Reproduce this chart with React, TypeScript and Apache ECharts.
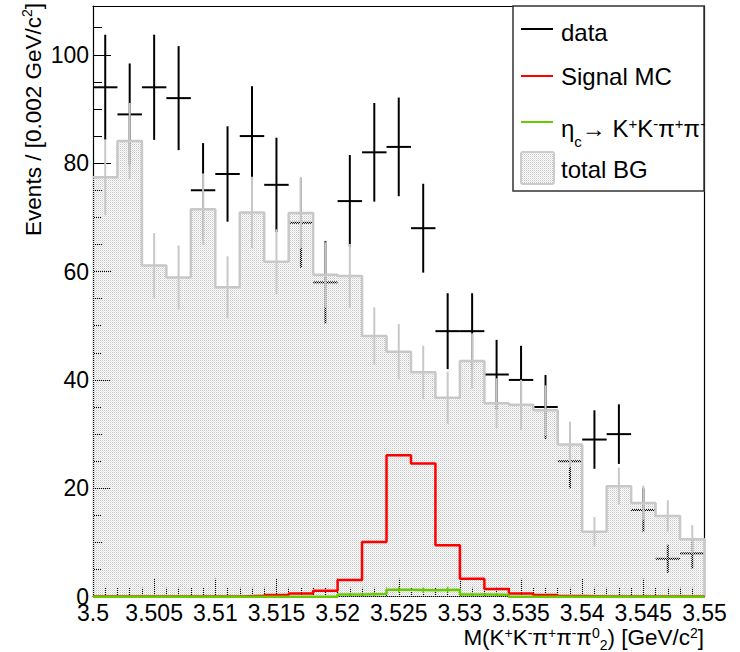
import React, { useEffect, useRef } from "react";
import * as echarts from "echarts";

const X_MIN = 3.5;
const X_MAX = 3.55;
const BIN_WIDTH = 0.002;
const Y_MAX = 109;

const dataCounts = [94, 89, 94, 92, 75, 78, 85, 76, 69, 58, 73, 82, 83, 68, 49, 49, 41, 40, 35, 25, 29, 30, 16, 7, 8];
const dataErrors = [9.7, 9.4, 9.7, 9.6, 8.7, 8.8, 9.2, 8.7, 8.3, 7.6, 8.5, 9.1, 9.1, 8.2, 7.0, 7.0, 6.4, 6.3, 5.9, 5.0, 5.4, 5.5, 4.0, 2.6, 2.8];
const totalBG = [77.4, 84.1, 61.1, 58.9, 71.5, 57.1, 70.9, 61.8, 70.8, 59.4, 59.2, 48.1, 45.2, 41.4, 36.7, 43.5, 35.7, 35.4, 34.4, 28.1, 12.0, 20.4, 17.3, 14.9, 10.6];
const totalBGErrors = [7.0, 7.0, 6.0, 5.9, 6.6, 5.7, 6.6, 6.0, 6.5, 6.0, 5.9, 5.3, 5.1, 4.9, 4.8, 5.1, 4.6, 4.6, 4.6, 4.2, 2.7, 3.4, 3.2, 2.9, 2.6];
const signalMC = [0.05, 0.05, 0.05, 0.05, 0.05, 0.05, 0.15, 0.3, 0.6, 1.1, 3.1, 10.1, 26.1, 24.6, 9.5, 3.3, 1.4, 0.6, 0.3, 0.15, 0.05, 0.05, 0.05, 0.05, 0.05];
const etacBG = [0, 0, 0, 0, 0, 0, 0, 0, 0, 0, 0.4, 0.5, 1.3, 1.2, 1.3, 0.4, 0.35, 0, 0, 0, 0, 0, 0, 0, 0];
const etacErrors = [0, 0, 0, 0, 0, 0, 0, 0, 0, 0, 0.3, 0.35, 0.55, 0.5, 0.55, 0.3, 0.3, 0, 0, 0, 0, 0, 0, 0, 0];

const legendLabels = ["data", "Signal MC", "η_c → K⁺K⁻π⁺π⁻", "total BG"];

const FONT = '"Liberation Sans", Arial, Helvetica, sans-serif';

function makePattern(): any {
  const c = document.createElement("canvas");
  c.width = 2;
  c.height = 2;
  const ctx = c.getContext("2d")!;
  ctx.fillStyle = "#c6c6c6";
  ctx.fillRect(0, 0, 1, 1);
  ctx.fillStyle = "#e2e2e2";
  ctx.fillRect(1, 1, 1, 1);
  return { image: c, repeat: "repeat" };
}

const binLow = (i: number) => X_MIN + i * BIN_WIDTH;
const binCenter = (i: number) => X_MIN + (i + 0.5) * BIN_WIDTH;

function stepData(vals: number[], closeRight = false) {
  const d: number[][] = vals.map((v, i) => [binLow(i), v]);
  d.push([X_MAX, vals[vals.length - 1]]);
  if (closeRight) d.push([X_MAX, 0]);
  return d;
}

function errorSeries(name: string, values: number[], errors: number[], color: string, width: number, withHoriz: boolean, z: number) {
  return {
    type: "custom",
    name,
    z,
    silent: true,
    encode: { x: 0, y: 1 },
    data: values.map((v, i) => [binCenter(i), v, errors[i]]),
    renderItem: (params: any, api: any) => {
      const xc = api.value(0) as number;
      const v = api.value(1) as number;
      const e = api.value(2) as number;
      const st = { stroke: color, lineWidth: width };
      const children: any[] = [];
      if (withHoriz) {
        const l = api.coord([xc - BIN_WIDTH / 2, v]);
        const r = api.coord([xc + BIN_WIDTH / 2, v]);
        children.push({ type: "line", shape: { x1: l[0], y1: l[1], x2: r[0], y2: r[1] }, style: st });
      }
      if (e > 0) {
        const t = api.coord([xc, v + e]);
        const b = api.coord([xc, Math.max(v - e, 0)]);
        children.push({ type: "line", shape: { x1: t[0], y1: t[1], x2: b[0], y2: b[1] }, style: st });
      }
      return { type: "group", children };
    },
  };
}

function makeRich(size: number, lineH: number, supSize: number, supH: number, subH: number) {
  return {
    m: { fontSize: size, lineHeight: lineH, fontFamily: FONT, color: "#000" },
    sup: { fontSize: supSize, height: supH, lineHeight: supH, verticalAlign: "top", fontFamily: FONT, color: "#000" },
    sub: { fontSize: supSize, height: subH, lineHeight: subH, verticalAlign: "bottom", fontFamily: FONT, color: "#000" },
  };
}

export default function App() {
  const ref = useRef<HTMLDivElement>(null);

  useEffect(() => {
    const chart = echarts.init(ref.current!, null, { renderer: "svg" });
    const pattern = makePattern();

    const yTitleRich = makeRich(22.5, 24, 14, 12, 1);
    const xTitleRich = makeRich(22.5, 16, 14, 7, 1);
    const legRich = makeRich(24, 28, 15, 19, 1);

    const legendText = (txt: string, y: number) => ({
      type: "text",
      x: 561,
      y,
      z: 101,
      style: { text: txt, fontSize: 24, fontFamily: FONT, fill: "#000", verticalAlign: "middle", align: "left" },
    });
    const legendLine = (y: number, color: string) => ({
      type: "line",
      z: 101,
      shape: { x1: 521, y1: y, x2: 553, y2: y },
      style: { stroke: color, lineWidth: 2 },
    });

    const axisLineStyle = { color: "#000", width: 1.2 };
    const frameAxisCommon = {
      type: "value",
      axisTick: { show: false },
      axisLabel: { show: false },
      splitLine: { show: false },
    };

    chart.setOption({
      animation: false,
      backgroundColor: "#fff",
      grid: { left: 93, right: 35.5, top: 6, bottom: 55.3, containLabel: false, outerBoundsMode: "none" },
      xAxis: [
        {
          type: "value",
          min: X_MIN,
          max: X_MAX,
          interval: 0.005,
          position: "bottom",
          axisLine: { show: true, onZero: false, lineStyle: axisLineStyle },
          axisTick: { show: true, inside: true, length: 18, lineStyle: { color: "#000", width: 1 } },
          minorTick: { show: true, splitNumber: 5, length: 9, lineStyle: { color: "#000", width: 1 } },
          splitLine: { show: false },
          minorSplitLine: { show: false },
          axisLabel: { fontSize: 23, color: "#000", fontFamily: FONT, margin: 5 },
        },
        { ...frameAxisCommon, min: X_MIN, max: X_MAX, position: "top", axisLine: { show: true, onZero: false, lineStyle: axisLineStyle } },
      ],
      yAxis: [
        {
          type: "value",
          min: 0,
          max: Y_MAX,
          interval: 20,
          position: "left",
          axisLine: { show: true, onZero: false, lineStyle: axisLineStyle },
          axisTick: { show: true, inside: true, length: 18, lineStyle: { color: "#000", width: 1 } },
          splitLine: { show: false },
          axisLabel: {
            fontSize: 23,
            color: "#000",
            fontFamily: FONT,
            margin: 4,
            formatter: (v: number) => (Math.abs(v % 20) < 1e-9 ? String(v) : ""),
          },
        },
        {
          type: "value",
          min: 0,
          max: Y_MAX,
          interval: 5,
          position: "left",
          axisLine: { show: false },
          axisTick: { show: true, inside: true, length: 9, lineStyle: { color: "#000", width: 1 } },
          axisLabel: { show: false },
          splitLine: { show: false },
        },
        { ...frameAxisCommon, min: 0, max: Y_MAX, position: "right", axisLine: { show: true, onZero: false, lineStyle: axisLineStyle } },
      ],
      series: [
        errorSeries("data", dataCounts, dataErrors, "#000", 2, true, 1),
        {
          type: "line",
          name: "total BG",
          step: "end",
          symbol: "none",
          silent: true,
          z: 2,
          data: stepData(totalBG, true),
          lineStyle: { color: "#c8c8c8", width: 2.5 },
          areaStyle: { color: pattern, opacity: 1 },
        },
        errorSeries("total BG errors", totalBG, totalBGErrors, "#c8c8c8", 2, false, 3),
        {
          type: "line",
          name: "Signal MC",
          step: "end",
          symbol: "none",
          silent: true,
          z: 4,
          data: stepData(signalMC),
          lineStyle: { color: "#ff0000", width: 2.5 },
        },
        {
          type: "line",
          name: "eta_c",
          step: "end",
          symbol: "none",
          silent: true,
          z: 5,
          data: stepData(etacBG),
          lineStyle: { color: "#66cc00", width: 2.5 },
        },
        errorSeries("eta_c errors", etacBG, etacErrors, "#66cc00", 1.5, false, 5),
      ],
      graphic: [
        {
          type: "text",
          x: 33,
          y: 3,
          rotation: Math.PI / 2,
          z: 50,
          style: {
            text: "{m|Events / [0.002 GeV/c}{sup|2}{m|]}",
            rich: yTitleRich,
            align: "right",
            verticalAlign: "middle",
            fontSize: 22.5,
            fontFamily: FONT,
          },
        },
        {
          type: "text",
          x: 704,
          y: 637,
          z: 50,
          style: {
            text: "{m|M(K}{sup|+}{m|K}{sup|-}{m|π}{sup|+}{m|π}{sup|-}{m|π}{sup|0}{sub|2}{m|) [GeV/c}{sup|2}{m|]}",
            rich: xTitleRich,
            align: "right",
            verticalAlign: "middle",
            fontSize: 22.5,
            fontFamily: FONT,
          },
        },
        {
          type: "rect",
          z: 100,
          shape: { x: 513, y: 6, width: 191, height: 185 },
          style: { fill: "#fff", stroke: "#333", lineWidth: 1.5 },
        },
        legendLine(29, "#000"),
        legendText(legendLabels[0], 32),
        legendLine(76, "#ff0000"),
        legendText(legendLabels[1], 76),
        legendLine(122, "#66cc00"),
        {
          type: "text",
          x: 561,
          y: 128,
          z: 101,
          style: {
            text: "{m|η}{sub|c}{m|→ K}{sup|+}{m|K}{sup|-}{m|π}{sup|+}{m|π}{sup|-}",
            rich: legRich,
            align: "left",
            verticalAlign: "middle",
            fontSize: 24,
            fontFamily: FONT,
          },
        },
        {
          type: "rect",
          z: 101,
          shape: { x: 521, y: 152, width: 33, height: 32, r: 2 },
          style: { fill: pattern, stroke: "#cccccc", lineWidth: 2 },
        },
        legendText(legendLabels[3], 169),
      ],
    });

    return () => chart.dispose();
  }, []);

  return <div ref={ref} style={{ position: "fixed", left: 0, top: 0, width: 740, height: 652 }} />;
}
